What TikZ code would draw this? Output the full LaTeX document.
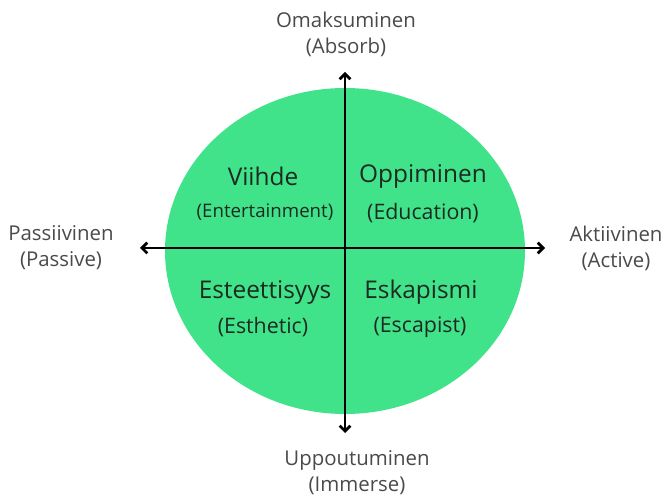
\documentclass[tikz,border=0pt]{standalone}
\usepackage{fontspec}
\setmainfont{Open Sans}
\usetikzlibrary{arrows.meta}
\definecolor{quadgreen}{HTML}{41E38A}
\definecolor{axisgrey}{HTML}{4A4A4A}
\definecolor{quadtext}{HTML}{1C2A22}
\tikzset{
	axislabel/.style={text=axisgrey, font=\fontsize{15.3}{19.5}\selectfont, align=center, inner sep=0pt},
	quadtitle/.style={text=quadtext, font=\fontsize{18.3}{20}\selectfont, inner sep=0pt},
	quadsub/.style={text=quadtext, font=\fontsize{16}{18}\selectfont, inner sep=0pt},
	axisline/.style={line width=2pt, {Straight Barb[length=4pt,width=8pt]}-{Straight Barb[length=4pt,width=8pt]}}
}

\begin{document}
\begin{tikzpicture}[x=0.75pt, y=-0.75pt]
				\useasboundingbox (0,0) rectangle (665,495);
				
				\fill[quadgreen] (345,251) ellipse (180 and 163);
				
				\coordinate (west) at (140,248);
				\coordinate (east) at (545,248);
				\coordinate (north) at (345,72);
				\coordinate (south) at (345,433);
				\draw[axisline] (west) -- (east);
				\draw[axisline] (north) -- (south);
				
				\node[axislabel] (absorb) at (346,34) {Omaksuminen\\(Absorb)};
				\node[axislabel] (passive) at (61,248) {Passiivinen\\(Passive)};
				\node[axislabel] (active) at (616,248) {Aktiivinen\\(Active)};
				\node[axislabel] (immerse) at (357,473) {Uppoutuminen\\(Immerse)};
				
				\node[quadtitle] (viihde) at (263,176) {Viihde};
				\node[quadsub, font=\fontsize{14}{16}\selectfont] (entertain) at (265,212) {(Entertainment)};
				\node[quadtitle] (oppiminen) at (423,176) {Oppiminen};
				\node[quadsub] (education) at (423,213) {(Education)};
				\node[quadtitle] (esteet) at (265,292) {Esteettisyys};
				\node[quadsub] (esthetic) at (263,327) {(Esthetic)};
				\node[quadtitle] (eskap) at (421,292) {Eskapismi};
				\node[quadsub] (escapist) at (420,327) {(Escapist)};
			\end{tikzpicture}
\end{document}
